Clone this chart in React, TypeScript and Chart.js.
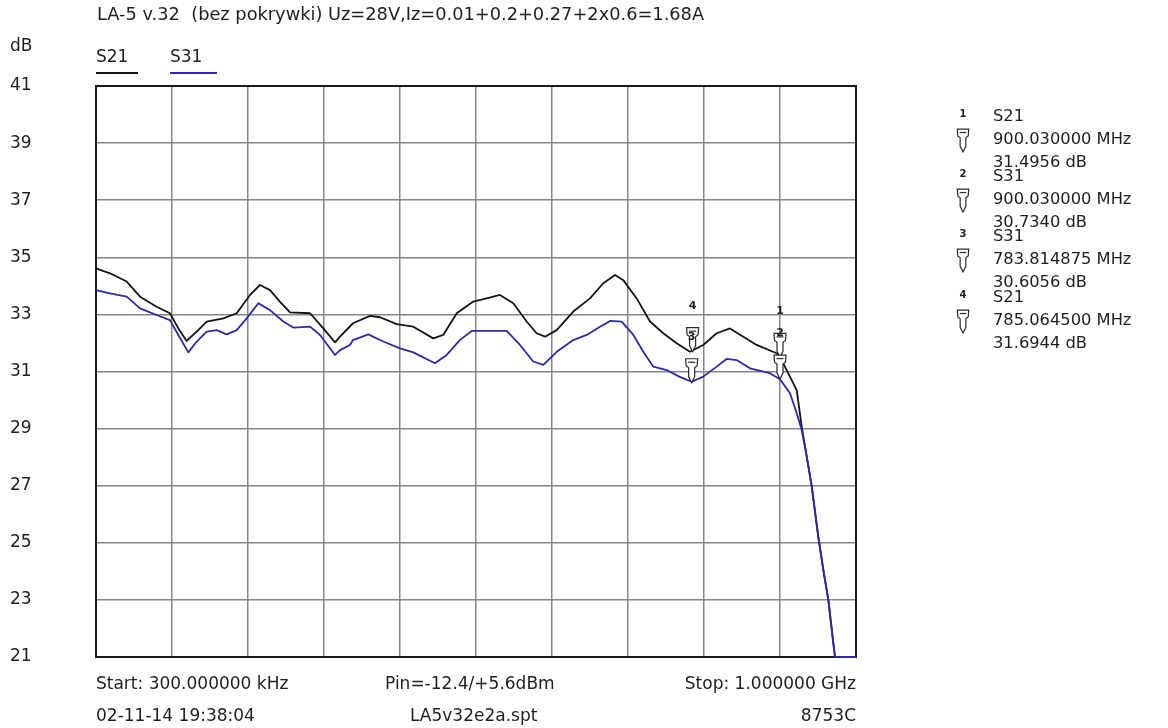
import React, { useEffect, useRef } from "react";
import { Chart, registerables } from "chart.js";

Chart.register(...registerables);

// ---------- data ----------
const TITLE = "LA-5 v.32  (bez pokrywki) Uz=28V,Iz=0.01+0.2+0.27+2x0.6=1.68A";
const Y_UNIT = "dB";
const Y_TICKS = [21, 23, 25, 27, 29, 31, 33, 35, 37, 39, 41];
const X_GRID = [0.3, 100.27, 200.24, 300.21, 400.18, 500.15, 600.12, 700.09, 800.06, 900.03, 1000];
const X_MIN = 0.3;
const X_MAX = 1000;

const SERIES_NAMES = ["S21", "S31"];

// S21 (MHz, dB)
const s21Freq = [
  0.3, 18.7, 40.7, 58.2, 80.1, 97.5, 108.6, 119.6, 132.8, 145.9, 167.8, 185.4, 202.9, 216.0,
  229.2, 242.4, 255.5, 281.8, 299.3, 314.7, 321.3, 338.4, 360.7, 373.9, 395.8, 417.7, 444.0,
  457.1, 474.8, 496.6, 514.2, 531.7, 549.2, 566.8, 579.9, 590.9, 606.3, 628.1, 650.1, 667.6,
  683.0, 693.9, 711.5, 729.0, 746.5, 764.1, 781.6, 799.1, 816.7, 834.2, 851.7, 869.3, 895.6,
  900.0, 908.8, 922.0, 928.6, 935.2, 941.8, 950.4, 957.0, 963.6, 970.2, 972.4, 1000,
];
const s21Db = [
  34.61, 34.44, 34.15, 33.62, 33.27, 33.04, 32.51, 32.07, 32.4, 32.75, 32.86, 33.04, 33.68, 34.03,
  33.85, 33.44, 33.07, 33.04, 32.51, 32.02, 32.22, 32.69, 32.95, 32.9, 32.66, 32.57, 32.16,
  32.28, 33.04, 33.45, 33.56, 33.68, 33.39, 32.75, 32.34, 32.22, 32.45, 33.1, 33.56, 34.09,
  34.38, 34.2, 33.56, 32.75, 32.34, 31.99, 31.69, 31.93, 32.34, 32.51, 32.22, 31.93, 31.64,
  31.5, 31.05, 30.35, 29.07, 28.02, 26.97, 25.21, 24.05, 23.0, 21.48, 21.0, 21.0,
];

// S31 (MHz, dB)
const s31Freq = [
  0.3, 18.7, 40.7, 58.2, 80.1, 97.5, 108.6, 121.7, 132.8, 145.9, 159.1, 172.2, 185.4, 198.5,
  213.8, 229.2, 246.7, 259.8, 281.8, 295.0, 314.7, 321.3, 334.4, 338.4, 358.5, 378.2, 400.2,
  417.7, 446.2, 461.6, 478.8, 494.5, 540.5, 558.0, 575.5, 588.7, 606.3, 628.1, 645.8, 663.3,
  676.4, 691.8, 707.1, 720.2, 733.4, 751.0, 767.5, 783.8, 799.1, 816.7, 829.8, 843.0, 860.5,
  886.8, 900.0, 913.2, 922.0, 928.6, 935.2, 941.8, 950.4, 957.0, 963.6, 970.2, 972.4, 1000,
];
const s31Db = [
  33.85, 33.74, 33.62, 33.21, 32.98, 32.8, 32.28, 31.67, 32.05, 32.4, 32.45, 32.3, 32.45, 32.86,
  33.39, 33.15, 32.75, 32.54, 32.57, 32.28, 31.58, 31.75, 31.93, 32.1, 32.3, 32.05, 31.81,
  31.67, 31.29, 31.58, 32.1, 32.42, 32.42, 31.93, 31.35, 31.23, 31.69, 32.1, 32.28, 32.57,
  32.77, 32.75, 32.28, 31.69, 31.17, 31.05, 30.82, 30.64, 30.82, 31.17, 31.44, 31.4, 31.11,
  30.94, 30.73, 30.24, 29.54, 28.95, 28.02, 26.97, 25.21, 24.05, 23.0, 21.48, 21.0, 21.0,
];

// markers
const markerNo = ["1", "2", "3", "4"];
const markerTrace = ["S21", "S31", "S31", "S21"];
const markerFreq = [900.03, 900.03, 783.814875, 785.0645];
const markerDb = [31.4956, 30.734, 30.6056, 31.6944];
const markerFreqText = ["900.030000 MHz", "900.030000 MHz", "783.814875 MHz", "785.064500 MHz"];
const markerDbText = ["31.4956 dB", "30.7340 dB", "30.6056 dB", "31.6944 dB"];

const FOOTER_ROW1 = ["Start: 300.000000 kHz", "Pin=-12.4/+5.6dBm", "Stop: 1.000000 GHz"];
const FOOTER_ROW2 = ["02-11-14 19:38:04", "LA5v32e2a.spt", "8753C"];

// ---------- styles ----------
const FONT = '"DejaVu Sans", "Liberation Sans", Arial, sans-serif';
const TEXT_SIZE = 17;
const TABLE_SIZE = 16.3;
const TEXT_COLOR = "#1e1e1e";
const S21_COLOR = "#141414";
const S31_COLOR = "#2b2ba8";
const GRID_COLOR = "#868686";

function drawFunnel(ctx: CanvasRenderingContext2D, x: number, tip: number, k: number) {
  ctx.save();
  ctx.beginPath();
  ctx.moveTo(x - 6 * k, tip - 24 * k);
  ctx.lineTo(x + 6 * k, tip - 24 * k);
  ctx.lineTo(x + 5.5 * k, tip - 17 * k);
  ctx.lineTo(x + 3 * k, tip - 15 * k);
  ctx.lineTo(x + 3 * k, tip - 6 * k);
  ctx.lineTo(x, tip);
  ctx.lineTo(x - 3 * k, tip - 6 * k);
  ctx.lineTo(x - 3 * k, tip - 15 * k);
  ctx.lineTo(x - 5.5 * k, tip - 17 * k);
  ctx.closePath();
  ctx.fillStyle = "#ffffff";
  ctx.fill();
  ctx.strokeStyle = "#2a2a2a";
  ctx.lineWidth = 1.2;
  ctx.stroke();
  ctx.beginPath();
  ctx.moveTo(x - 3.5 * k, tip - 20.5 * k);
  ctx.lineTo(x + 3.5 * k, tip - 20.5 * k);
  ctx.stroke();
  ctx.restore();
}

const annotPlugin = {
  id: "annot",
  beforeDraw(chart: any) {
    const ctx = chart.ctx;
    ctx.save();
    ctx.fillStyle = "#ffffff";
    ctx.fillRect(0, 0, chart.width, chart.height);
    ctx.restore();
  },
  beforeDatasetsDraw(chart: any) {
    const ctx: CanvasRenderingContext2D = chart.ctx;
    const { left, right, top, bottom } = chart.chartArea;
    ctx.save();
    ctx.strokeStyle = "#1a1a1a";
    ctx.lineWidth = 2;
    ctx.strokeRect(left, top, right - left, bottom - top);
    ctx.restore();
  },
  afterDatasetsDraw(chart: any) {
    const ctx: CanvasRenderingContext2D = chart.ctx;
    const { right, left } = chart.chartArea;
    const xs = chart.scales.x;
    const ys = chart.scales.y;

    // markers on the plot
    for (let i = 0; i < markerFreq.length; i++) {
      const px = xs.getPixelForValue(markerFreq[i]);
      const py = ys.getPixelForValue(markerDb[i]);
      drawFunnel(ctx, px, py, 1);
    }
    ctx.save();
    ctx.fillStyle = TEXT_COLOR;
    ctx.font = `bold 11px ${FONT}`;
    ctx.textAlign = "center";
    ctx.textBaseline = "middle";
    for (let i = 0; i < markerFreq.length; i++) {
      const px = xs.getPixelForValue(markerFreq[i]);
      const py = ys.getPixelForValue(markerDb[i]);
      ctx.fillText(markerNo[i], px, py - 46);
    }
    ctx.restore();

    // texts
    ctx.save();
    ctx.fillStyle = TEXT_COLOR;
    ctx.textBaseline = "middle";
    ctx.textAlign = "left";
    ctx.font = `17.8px ${FONT}`;
    ctx.fillText(TITLE, 97, 15);
    ctx.font = `${TEXT_SIZE}px ${FONT}`;
    ctx.fillText(Y_UNIT, 10, 47);

    // legend
    const legendX = [96, 170];
    const legendLen = [42, 47];
    const legendColors = [S21_COLOR, S31_COLOR];
    for (let i = 0; i < SERIES_NAMES.length; i++) {
      ctx.fillStyle = TEXT_COLOR;
      ctx.fillText(SERIES_NAMES[i], legendX[i], 58);
      ctx.strokeStyle = legendColors[i];
      ctx.lineWidth = 2;
      ctx.beginPath();
      ctx.moveTo(legendX[i], 73);
      ctx.lineTo(legendX[i] + legendLen[i], 73);
      ctx.stroke();
    }

    // footer
    ctx.fillStyle = TEXT_COLOR;
    ctx.textAlign = "left";
    ctx.fillText(FOOTER_ROW1[0], left, 685);
    ctx.fillText(FOOTER_ROW1[1], 385, 685);
    ctx.fillText(FOOTER_ROW2[0], left, 717);
    ctx.fillText(FOOTER_ROW2[1], 410, 717);
    ctx.textAlign = "right";
    ctx.fillText(FOOTER_ROW1[2], right, 685);
    ctx.fillText(FOOTER_ROW2[2], right, 717);

    // marker table
    const tableTop = [117, 177, 237, 298];
    for (let i = 0; i < markerNo.length; i++) {
      const y0 = tableTop[i];
      ctx.textAlign = "left";
      ctx.font = `${TABLE_SIZE}px ${FONT}`;
      ctx.fillText(markerTrace[i], 993, y0);
      ctx.fillText(markerFreqText[i], 993, y0 + 23);
      ctx.fillText(markerDbText[i], 993, y0 + 46);
      ctx.font = `bold 10px ${FONT}`;
      ctx.textAlign = "center";
      ctx.fillText(markerNo[i], 963, y0 - 3);
      drawFunnel(ctx, 963, y0 + 35, 0.95);
    }
    ctx.restore();
  },
};

export default function App() {
  const canvasRef = useRef<HTMLCanvasElement | null>(null);

  useEffect(() => {
    const canvas = canvasRef.current;
    if (!canvas) return;
    const chart = new Chart(canvas, {
      type: "line",
      data: {
        datasets: [
          {
            label: SERIES_NAMES[0],
            data: s21Freq.map((f, i) => ({ x: f, y: s21Db[i] })),
            borderColor: S21_COLOR,
            borderWidth: 1.8,
            pointRadius: 0,
            tension: 0,
            borderJoinStyle: "round",
            clip: 3,
            order: 1,
          },
          {
            label: SERIES_NAMES[1],
            data: s31Freq.map((f, i) => ({ x: f, y: s31Db[i] })),
            borderColor: S31_COLOR,
            borderWidth: 1.8,
            pointRadius: 0,
            tension: 0,
            borderJoinStyle: "round",
            clip: 3,
            order: 0,
          },
        ],
      },
      options: {
        responsive: false,
        animation: false,
        events: [],
        layout: { padding: { left: 10, top: 86, right: 312, bottom: 71 } },
        plugins: {
          legend: { display: false },
          tooltip: { enabled: false },
          title: { display: false },
        },
        scales: {
          x: {
            type: "linear",
            min: X_MIN,
            max: X_MAX,
            afterBuildTicks: (s: any) => {
              s.ticks = X_GRID.map((v) => ({ value: v }));
            },
            afterFit: (s: any) => {
              s.height = 0;
            },
            ticks: { display: false },
            grid: { color: GRID_COLOR, lineWidth: 1.5, drawTicks: false },
            border: { display: false },
          },
          y: {
            type: "linear",
            min: 21,
            max: 41,
            afterBuildTicks: (s: any) => {
              s.ticks = Y_TICKS.map((v) => ({ value: v }));
            },
            afterFit: (s: any) => {
              s.width = 86;
            },
            ticks: {
              crossAlign: "far",
              padding: 0,
              color: TEXT_COLOR,
              font: { family: FONT, size: TEXT_SIZE },
            },
            grid: { color: GRID_COLOR, lineWidth: 1.5, drawTicks: false },
            border: { display: false },
          },
        },
      } as any,
      plugins: [annotPlugin],
    });
    return () => chart.destroy();
  }, []);

  return (
    <div style={{ position: "fixed", left: 0, top: 0, width: 1168, height: 728, background: "#fff" }}>
      <canvas ref={canvasRef} width={1168} height={728} style={{ width: 1168, height: 728, display: "block" }} />
    </div>
  );
}
